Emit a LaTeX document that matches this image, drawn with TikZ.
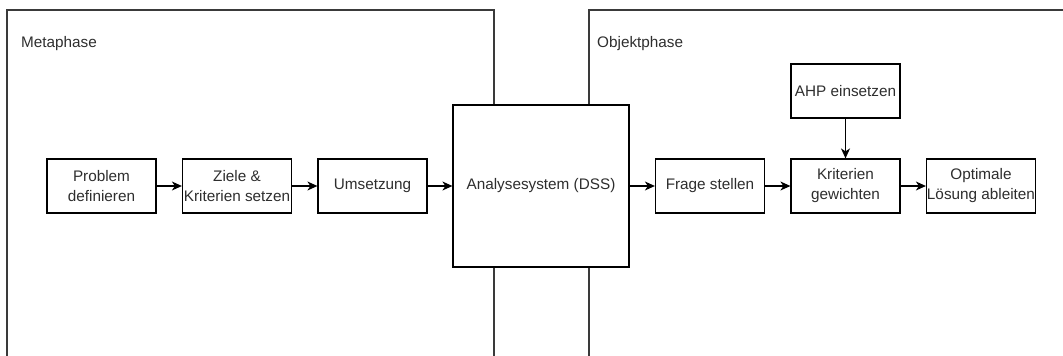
\documentclass[tikz,border=0pt]{standalone}
\usepackage{fontspec}
\setmainfont{Liberation Sans}
\usetikzlibrary{arrows.meta}
\definecolor{framegray}{HTML}{3A3A3A}
\definecolor{txtgray}{HTML}{2E2E2E}
\begin{document}
\begin{tikzpicture}[x=1pt,y=-1pt,
  every node/.style={font=\fontsize{15.3}{20}\selectfont, text=txtgray},
  stepbox/.style={draw=black, line width=1.2pt, fill=white, minimum width=109pt,
    minimum height=54pt, align=center, inner sep=0pt},
  bigbox/.style={draw=black, line width=1.2pt, fill=white, minimum width=176pt,
    minimum height=162pt, align=center, inner sep=0pt},
  phase/.style={draw=framegray, line width=1.2pt},
  flow/.style={draw=black, line width=1.3pt, -{Stealth[length=10pt,width=9pt,inset=3pt]}},
  caption/.style={anchor=west, inner sep=0pt}]
\useasboundingbox (0,0) rectangle (1063,356);

% phase frames (open towards the bottom / right)
\path[phase] (7,360) -- (7,10) -- (494,10) -- (494,360);
\path[phase] (589,360) -- (589,10) -- (1070,10);
\node[caption] (meta) at (21,44) {Metaphase};
\node[caption] (obj) at (597,44) {Objektphase};

% central analysis system
\node[bigbox] (dss) at (541,186) {Analysesystem (DSS)};

% Metaphase steps
\node[stepbox] (prob) at (101.5,186) {Problem\\definieren};
\node[stepbox] (ziel) at (237,186) {Ziele \&\\Kriterien setzen};
\node[stepbox] (ums) at (372.5,186) {Umsetzung};

% Objektphase steps
\node[stepbox] (frage) at (710,186) {Frage stellen};
\node[stepbox] (krit) at (845.5,186) {Kriterien\\gewichten};
\node[stepbox] (opt) at (981,186) {Optimale\\Lösung ableiten};
\node[stepbox] (ahp) at (845.5,91) {AHP einsetzen};

% connectors
\draw[flow] (prob) -- (ziel);
\draw[flow] (ziel) -- (ums);
\draw[flow] (ums) -- (dss);
\draw[flow] (dss) -- (frage);
\draw[flow] (frage) -- (krit);
\draw[flow] (krit) -- (opt);
\draw[flow] (ahp) -- (krit);
\end{tikzpicture}
\end{document}
